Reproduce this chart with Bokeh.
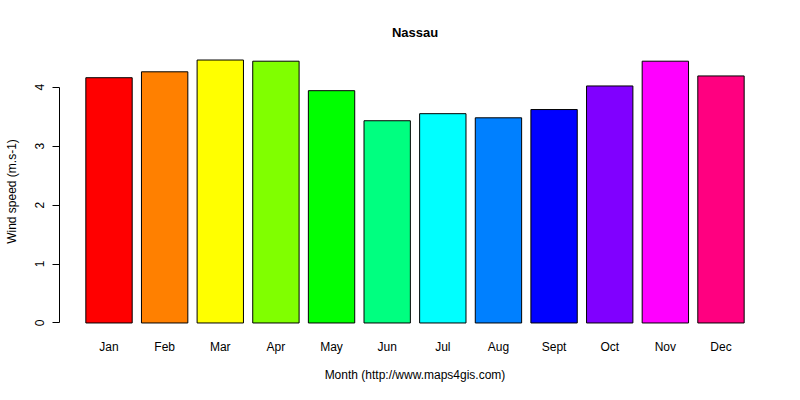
from bokeh.plotting import figure
from bokeh.models import LinearAxis, FixedTicker, Range1d, ColumnDataSource
from bokeh.embed import file_html
from bokeh.resources import INLINE

# Nassau mean monthly wind speed (m.s-1)
months = ["Jan", "Feb", "Mar", "Apr", "May", "Jun", "Jul", "Aug", "Sept", "Oct", "Nov", "Dec"]
wind_speed = [4.16, 4.26, 4.46, 4.44, 3.94, 3.43, 3.55, 3.48, 3.62, 4.02, 4.44, 4.19]
bar_colors = ["#FF0000", "#FF8000", "#FFFF00", "#80FF00", "#00FF00", "#00FF80",
              "#00FFFF", "#0080FF", "#0000FF", "#8000FF", "#FF00FF", "#FF0080"]
y_ticks = [0, 1, 2, 3, 4]

FONT = "Liberation Sans"

# barplot layout like R: width 1, space 0.2
centers = [0.7 + 1.2 * i for i in range(len(months))]
x_lo, x_hi = 0.2, 0.2 + 1.2 * len(months) - 0.2
x_pad = 0.04 * (x_hi - x_lo)
y_hi = max(wind_speed)
y_pad = 0.04 * y_hi

source = ColumnDataSource(dict(x=centers, top=wind_speed, color=bar_colors))

p = figure(width=784, height=384, output_backend="svg", toolbar_location=None, tools="",
           x_range=Range1d(x_lo - x_pad, x_hi + x_pad),
           y_range=Range1d(-y_pad, y_hi + y_pad),
           x_axis_location=None, y_axis_location=None,
           min_border_left=59, min_border_right=14, min_border_top=49, min_border_bottom=50,
           title="Nassau")
p.outline_line_color = None
p.grid.visible = False
p.background_fill_color = "white"
p.border_fill_color = "white"

p.title.align = "center"
p.title.text_font = FONT
p.title.text_font_size = "13px"
p.title.text_font_style = "bold"
p.title.text_color = "black"
p.title.standoff = 19

p.vbar(x="x", top="top", bottom=0, width=1.0, fill_color="color",
       line_color="black", line_width=1, source=source)

# y axis (line only between first and last tick, like R)
yaxis = LinearAxis(ticker=FixedTicker(ticks=y_ticks), bounds=(0, 4),
                   axis_label="Wind speed (m.s-1)")
yaxis.major_tick_in = 0
yaxis.major_tick_out = 7
yaxis.minor_tick_line_color = None
yaxis.axis_line_color = "black"
yaxis.major_tick_line_color = "black"
yaxis.major_label_orientation = "vertical"
yaxis.major_label_standoff = 8
yaxis.major_label_text_font = FONT
yaxis.major_label_text_font_size = "12px"
yaxis.major_label_text_color = "black"
yaxis.axis_label_standoff = 14
yaxis.axis_label_text_font = FONT
yaxis.axis_label_text_font_size = "12px"
yaxis.axis_label_text_font_style = "normal"
yaxis.axis_label_text_color = "black"
p.add_layout(yaxis, "left")

# x axis: month names under the bars, no line or ticks
xaxis = LinearAxis(ticker=FixedTicker(ticks=centers),
                   axis_label="Month (http://www.maps4gis.com)")
xaxis.major_label_overrides = {c: m for c, m in zip(centers, months)}
xaxis.axis_line_color = None
xaxis.major_tick_line_color = None
xaxis.minor_tick_line_color = None
xaxis.major_tick_in = 0
xaxis.major_tick_out = 0
xaxis.major_label_standoff = 6
xaxis.major_label_text_font = FONT
xaxis.major_label_text_font_size = "12px"
xaxis.major_label_text_color = "black"
xaxis.axis_label_standoff = 11
xaxis.axis_label_text_font = FONT
xaxis.axis_label_text_font_size = "12px"
xaxis.axis_label_text_font_style = "normal"
xaxis.axis_label_text_color = "black"
p.add_layout(xaxis, "below")

open("out.html", "w").write(file_html(p, INLINE))
